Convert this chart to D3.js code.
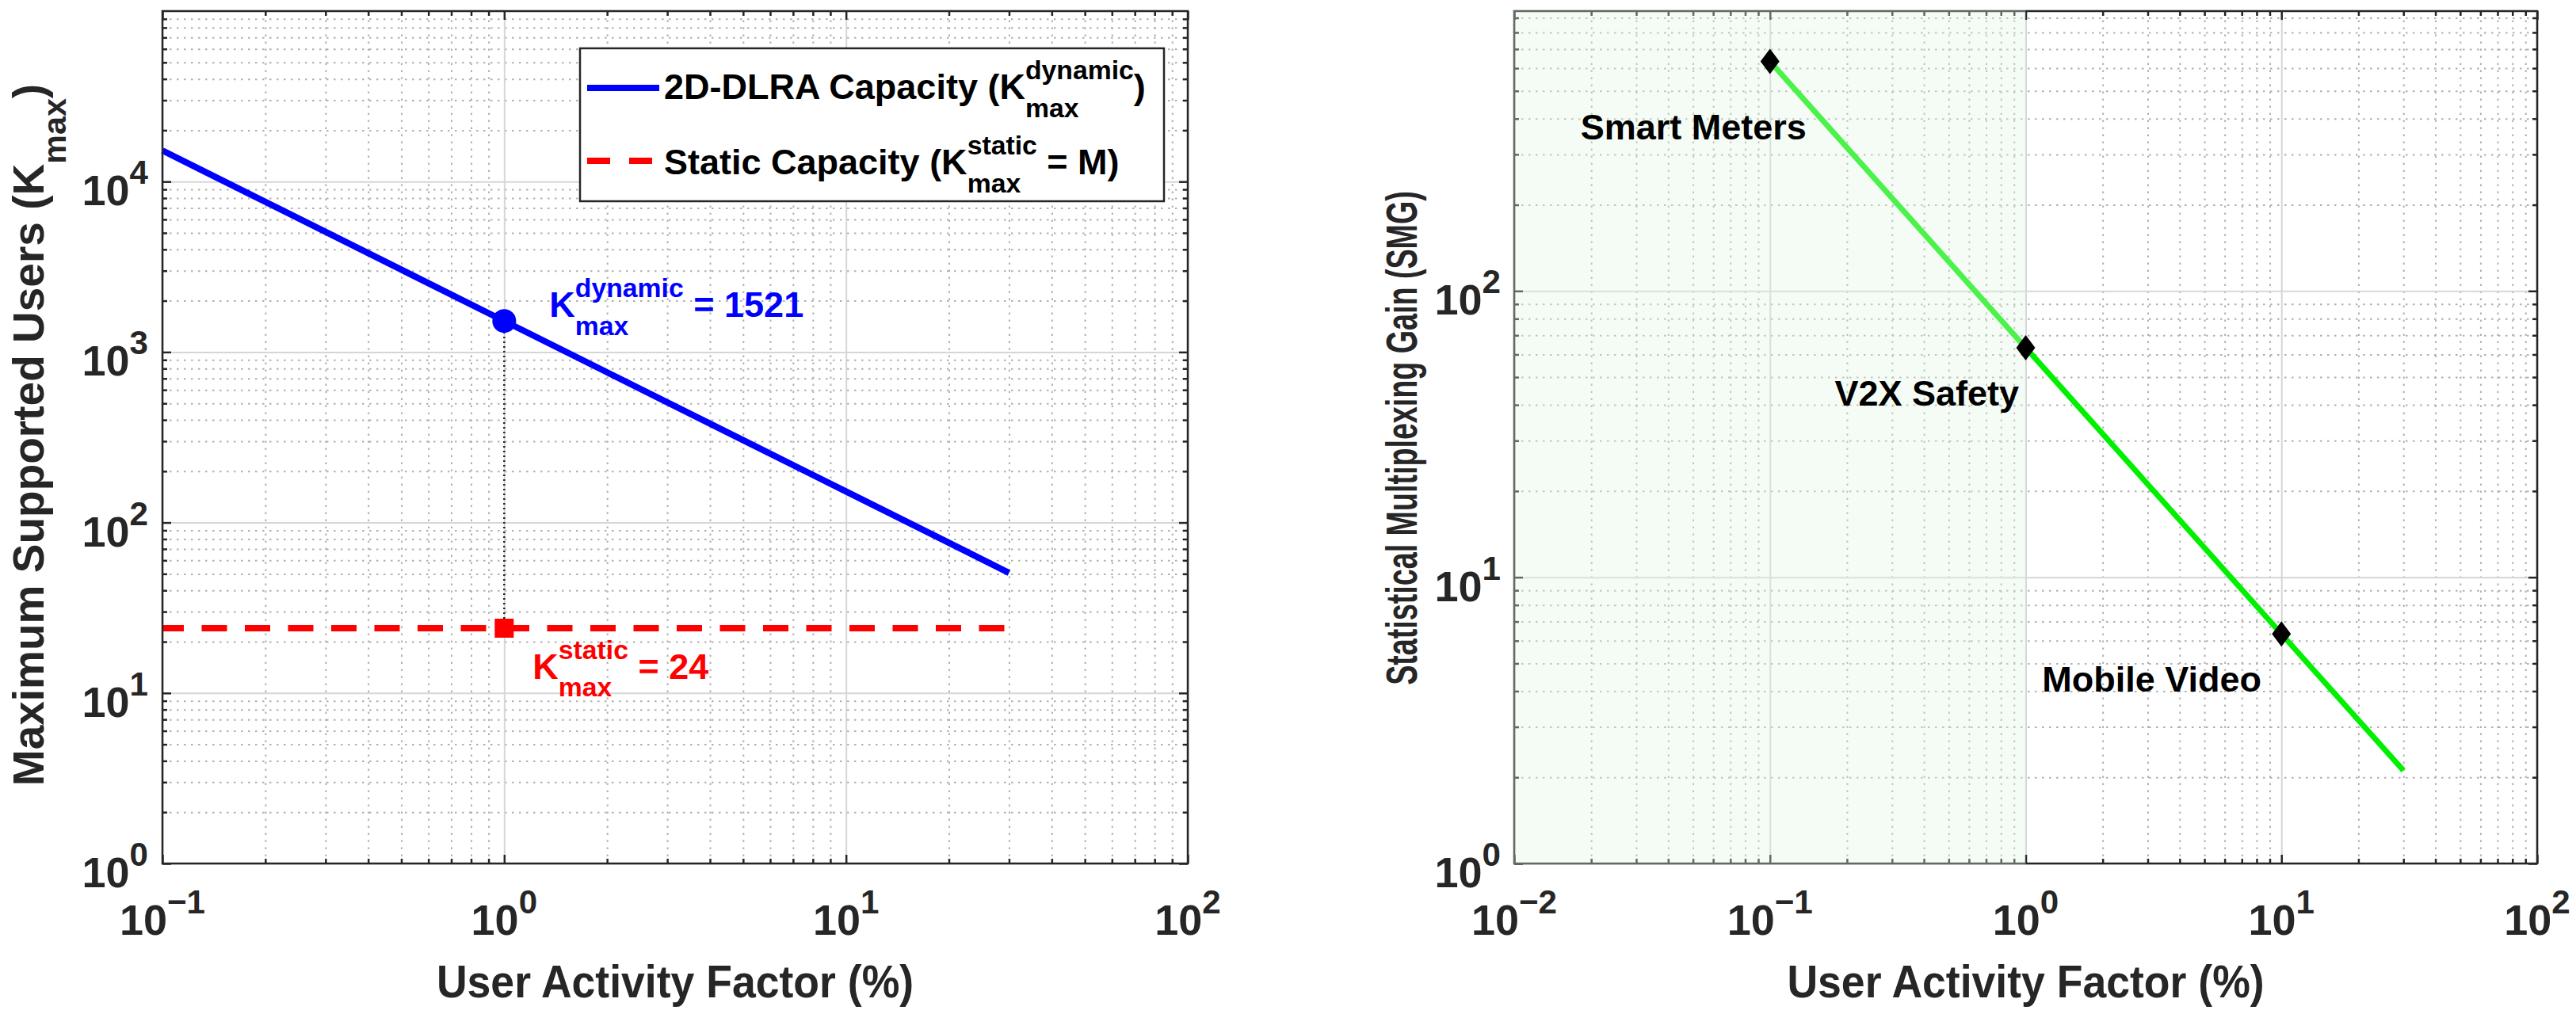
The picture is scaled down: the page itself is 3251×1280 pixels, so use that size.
<!DOCTYPE html>
<html>
<head>
<meta charset="utf-8">
<script src="https://cdn.jsdelivr.net/npm/d3@7"></script>
<style>
  html, body { margin: 0; padding: 0; background: #fff; }
  svg text { white-space: pre; }
</style>
</head>
<body>
<svg id="chart" width="3251" height="1280"></svg>
<script>
// ---------------- data ----------------
const activityL = [0.1, 0.2, 0.5, 1, 2, 5, 10, 20, 30];            // User activity factor (%)
const kDynamic  = [15210, 7605, 3042, 1521, 760.5, 304.2, 152.1, 76.05, 50.7];
const activityStatic = [0.1, 30];
const kStatic   = [24, 24];
const opPointX  = [1];
const opDynamic = [1521];
const opStatic  = [24];

const activityR = [0.1, 1, 10, 30];
const smg       = [633.75, 63.375, 6.3375, 2.1125];
const useCases  = ["Smart Meters", "V2X Safety", "Mobile Video"];
const shadeRange = [0.01, 1];

const xTicksL = [0.1, 1, 10, 100];
const yTicksL = [1, 10, 100, 1000, 10000];
const xTicksR = [0.01, 0.1, 1, 10, 100];
const yTicksR = [1, 10, 100];

const legendLabels = ["2D-DLRA Capacity (K", "Static Capacity (K"];

// ---------------- setup ----------------
const FONT = "'Liberation Sans', Arial, Helvetica, sans-serif";
const AX = "#262626";
const svg = d3.select("#chart");
svg.append("rect").attr("width", 3251).attr("height", 1280).attr("fill", "#fff");

const L = {
  x: d3.scaleLog().domain([0.1, 100]).range([205, 1499]),
  y: d3.scaleLog().domain([1, 1e5]).range([1090, 14])
};
const R = {
  x: d3.scaleLog().domain([0.01, 100]).range([1911, 3202]),
  y: d3.scaleLog().domain([1, 950]).range([1090, 14])
};

function minors(domain) {
  const out = [];
  const e0 = Math.floor(Math.log10(domain[0])), e1 = Math.ceil(Math.log10(domain[1]));
  for (let e = e0; e < e1; e++) for (let m = 2; m <= 9; m++) {
    const v = m * Math.pow(10, e);
    if (v > domain[0] * 1.0001 && v < domain[1] * 0.9999) out.push(v);
  }
  return out;
}

function rich(parent, opt, runs) {
  const g = parent.append("g")
    .attr("transform", `translate(${opt.x},${opt.y}) rotate(${opt.rot || 0}) scale(${opt.sx || 1},1)`);
  const inner = g.append("g");
  const fs = opt.size, ss = fs * (opt.ss || 0.75);
  const supShift = opt.supShift != null ? opt.supShift : 0.55 * fs;
  const subShift = opt.subShift != null ? opt.subShift : 0.5 * fs;
  let cx = 0;
  const mk = (t, x, dy, size) => inner.append("text")
    .attr("x", x).attr("y", dy)
    .attr("font-size", size).attr("font-family", FONT).attr("font-weight", "bold")
    .attr("fill", opt.fill || AX).text(t);
  runs.forEach(r => {
    if (typeof r === "string") {
      const n = mk(r, cx, 0, fs);
      cx += n.node().getComputedTextLength();
    } else {
      let w = 0;
      if (r.sup != null) w = Math.max(w, mk(r.sup, cx, -supShift, ss).node().getComputedTextLength());
      if (r.sub != null) w = Math.max(w, mk(r.sub, cx, subShift, ss).node().getComputedTextLength());
      cx += w;
    }
  });
  const off = opt.anchor === "middle" ? -cx / 2 : opt.anchor === "end" ? -cx : 0;
  inner.attr("transform", `translate(${off},0)`);
  return g;
}

const expStr = v => { const e = Math.round(Math.log10(v)); return e < 0 ? "\u2212" + Math.abs(e) : String(e); };

function grid(g, S, xMaj, yMaj) {
  const [x0, x1] = S.x.range(), [y0, y1] = S.y.range();
  const h = y0 - y1, w = x1 - x0;
  const style = (sel, dotted) => {
    sel.select(".domain").remove();
    sel.selectAll(".tick line").attr("stroke", dotted ? "#b0b0b0" : "#d6d6d6")
      .attr("stroke-width", 2).attr("stroke-dasharray", dotted ? "2.5,6.5" : null);
  };
  g.append("g").attr("transform", `translate(0,${y0})`)
    .call(d3.axisBottom(S.x).tickValues(minors(S.x.domain())).tickSize(-h).tickFormat(""))
    .call(s => style(s, true));
  g.append("g").attr("transform", `translate(${x0},0)`)
    .call(d3.axisLeft(S.y).tickValues(minors(S.y.domain())).tickSize(-w).tickFormat(""))
    .call(s => style(s, true));
  g.append("g").attr("transform", `translate(0,${y0})`)
    .call(d3.axisBottom(S.x).tickValues(xMaj).tickSize(-h).tickFormat(""))
    .call(s => style(s, false));
  g.append("g").attr("transform", `translate(${x0},0)`)
    .call(d3.axisLeft(S.y).tickValues(yMaj).tickSize(-w).tickFormat(""))
    .call(s => style(s, false));
}

function frame(g, S, xMaj, yMaj) {
  const [x0, x1] = S.x.range(), [y0, y1] = S.y.range();
  const st = sel => { sel.select(".domain").remove(); sel.selectAll(".tick line").attr("stroke", AX).attr("stroke-width", 2.5); };
  [[xMaj, 11], [minors(S.x.domain()), 6]].forEach(([vals, len]) => {
    g.append("g").attr("transform", `translate(0,${y0})`).call(d3.axisBottom(S.x).tickValues(vals).tickSize(-len).tickFormat("")).call(st);
    g.append("g").attr("transform", `translate(0,${y1})`).call(d3.axisTop(S.x).tickValues(vals).tickSize(-len).tickFormat("")).call(st);
  });
  [[yMaj, 11], [minors(S.y.domain()), 6]].forEach(([vals, len]) => {
    g.append("g").attr("transform", `translate(${x0},0)`).call(d3.axisLeft(S.y).tickValues(vals).tickSize(-len).tickFormat("")).call(st);
    g.append("g").attr("transform", `translate(${x1},0)`).call(d3.axisRight(S.y).tickValues(vals).tickSize(-len).tickFormat("")).call(st);
  });
  g.append("rect").attr("x", x0).attr("y", y1).attr("width", x1 - x0).attr("height", y0 - y1)
    .attr("fill", "none").attr("stroke", AX).attr("stroke-width", 2.5);
}

function tickLabels(g, S, xMaj, yMaj, yLabelRight) {
  const y0 = S.y.range()[0];
  xMaj.forEach(v => rich(g, { x: S.x(v), y: y0 + 90, size: 54, ss: 0.78, supShift: 27, anchor: "middle", fill: AX }, ["10", { sup: expStr(v) }]));
  yMaj.forEach(v => rich(g, { x: yLabelRight, y: S.y(v) + 30, size: 54, ss: 0.78, supShift: 27, anchor: "end", fill: AX }, ["10", { sup: expStr(v) }]));
}

// ================= LEFT PANEL =================
const gl = svg.append("g");
grid(gl, L, xTicksL, yTicksL);

const line = (S) => d3.line().x(d => S.x(d[0])).y(d => S.y(d[1]));

gl.append("path").datum(d3.zip(activityL, kDynamic))
  .attr("d", line(L)).attr("fill", "none").attr("stroke", "#0000ff").attr("stroke-width", 8)
  .attr("stroke-linejoin", "round");
gl.append("path").datum(d3.zip(activityStatic, kStatic))
  .attr("d", line(L)).attr("fill", "none").attr("stroke", "#ff0000").attr("stroke-width", 8)
  .attr("stroke-dasharray", "32,22.5").attr("stroke-dashoffset", 5);

// dotted connector
gl.selectAll(".conn").data(opPointX).join("line")
  .attr("x1", (d) => L.x(d)).attr("x2", (d) => L.x(d))
  .attr("y1", (d, i) => L.y(opStatic[i])).attr("y2", (d, i) => L.y(opDynamic[i]))
  .attr("stroke", "#222").attr("stroke-width", 2.5).attr("stroke-dasharray", "2,4");

gl.selectAll(".opd").data(opPointX).join("circle")
  .attr("cx", d => L.x(d)).attr("cy", (d, i) => L.y(opDynamic[i])).attr("r", 15).attr("fill", "#0000ff");
gl.selectAll(".ops").data(opPointX).join("rect")
  .attr("x", d => L.x(d) - 12).attr("y", (d, i) => L.y(opStatic[i]) - 12)
  .attr("width", 24).attr("height", 24).attr("fill", "#ff0000");

frame(gl, L, xTicksL, yTicksL);
tickLabels(gl, L, xTicksL, yTicksL, 187);

// annotations
rich(gl, { x: L.x(opPointX[0]) + 57, y: L.y(opDynamic[0]) - 5, size: 45, fill: "#0000ff" },
  ["K", { sup: "dynamic", sub: "max" }, " = " + opDynamic[0]]);
rich(gl, { x: L.x(opPointX[0]) + 36, y: L.y(opStatic[0]) + 64, size: 45, fill: "#ff0000" },
  ["K", { sup: "static", sub: "max" }, " = " + opStatic[0]]);

// legend
const lg = gl.append("g");
lg.append("rect").attr("x", 732).attr("y", 61).attr("width", 737).attr("height", 193)
  .attr("fill", "#fff").attr("stroke", AX).attr("stroke-width", 2.5);
lg.append("line").attr("x1", 741).attr("x2", 832).attr("y1", 111).attr("y2", 111)
  .attr("stroke", "#0000ff").attr("stroke-width", 8);
lg.append("line").attr("x1", 741).attr("x2", 824).attr("y1", 203).attr("y2", 203)
  .attr("stroke", "#ff0000").attr("stroke-width", 8).attr("stroke-dasharray", "29,24");
rich(lg, { x: 838, y: 125, size: 45, fill: "#000" }, [legendLabels[0], { sup: "dynamic", sub: "max" }, ")"]);
rich(lg, { x: 838, y: 220, size: 45, fill: "#000" }, [legendLabels[1], { sup: "static", sub: "max" }, " = M)"]);

// axis labels
rich(gl, { x: 852, y: 1259, size: 57, sx: 0.94, anchor: "middle", fill: AX }, ["User Activity Factor (%)"]);
rich(gl, { x: 55, y: 549, rot: -90, size: 55, anchor: "middle", fill: AX, subShift: 28 }, ["Maximum Supported Users (K", { sub: "max" }, ")"]);

// ================= RIGHT PANEL =================
const gr = svg.append("g");
grid(gr, R, xTicksR, yTicksR);

gr.append("path").datum(d3.zip(activityR, smg))
  .attr("d", line(R)).attr("fill", "none").attr("stroke", "#00f000").attr("stroke-width", 7)
  .attr("stroke-linejoin", "round");

frame(gr, R, xTicksR, yTicksR);

// shaded low-activity region (drawn over line and box)
gr.append("rect")
  .attr("x", R.x(shadeRange[0]) - 1.5).attr("y", R.y.range()[1] - 1.5)
  .attr("width", R.x(shadeRange[1]) - R.x(shadeRange[0]) + 1.5)
  .attr("height", R.y.range()[0] - R.y.range()[1] + 3)
  .attr("fill", "rgb(226,246,226)").attr("fill-opacity", 0.33);

// diamonds
const mk = activityR.slice(0, 3).map((a, i) => [a, smg[i]]);
gr.selectAll(".dia").data(mk).join("path")
  .attr("d", d => { const x = R.x(d[0]), y = R.y(d[1]); return `M${x},${y - 16}L${x + 12},${y}L${x},${y + 16}L${x - 12},${y}Z`; })
  .attr("fill", "#000");

// use-case labels (offsets from their markers, in px)
const labelOffset = [[-239, 98], [-241, 73], [-302, 73]];
mk.forEach((d, i) => {
  rich(gr, { x: R.x(d[0]) + labelOffset[i][0], y: R.y(d[1]) + labelOffset[i][1], size: 45, fill: "#000" }, [useCases[i]]);
});

tickLabels(gr, R, xTicksR, yTicksR, 1894);

rich(gr, { x: 2556.5, y: 1259, size: 57, sx: 0.94, anchor: "middle", fill: AX }, ["User Activity Factor (%)"]);
rich(gr, { x: 1788, y: 553, rot: -90, size: 55, sx: 0.685, anchor: "middle", fill: AX }, ["Statistical Multiplexing Gain (SMG)"]);
</script>
</body>
</html>
